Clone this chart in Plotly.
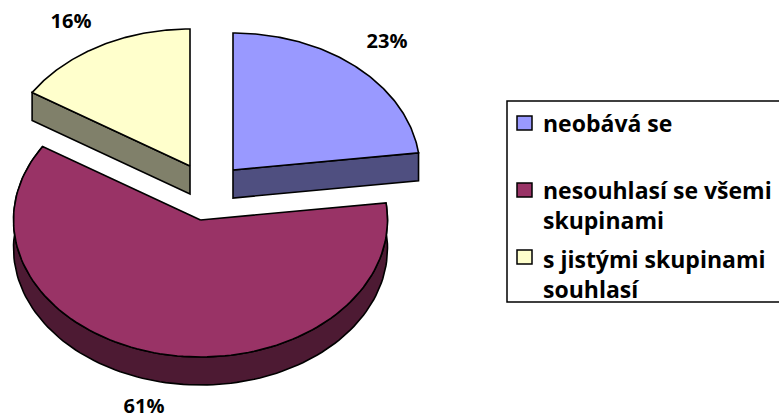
import math
import plotly.graph_objects as go

categories = ["neobává se", "nesouhlasí se všemi", "s jistými skupinami"]
legend_labels = ["neobává se", "nesouhlasí se všemi<br>skupinami", "s jistými skupinami<br>souhlasí"]
values = [23, 61, 16]
top_colors = ["#9999FF", "#993366", "#FFFFCC"]
side_colors = ["#4F4F80", "#4D1A33", "#80806A"]

W, H = 779, 418
RX, RY, DEPTH = 187, 137, 28
CENTERS = [(233, 170), (200.5, 220), (190, 166)]
LABELS = [(387, 43), (144, 408), (71, 23)]
KEY_Y = [123, 190, 257]
TEXT_TOP = [105, 172, 241]
FONT = "Open Sans"


def arc(c, a0, a1, dy=0, n=120):
    pts = []
    for i in range(n + 1):
        a = math.radians(a0 + (a1 - a0) * i / n)
        pts.append((c[0] + RX * math.sin(a), c[1] - RY * math.cos(a) + dy))
    return pts


def poly(pts, fill, name=None):
    return go.Scatter(
        x=[p[0] for p in pts], y=[p[1] for p in pts], mode="lines",
        fill="toself", fillcolor=fill, line=dict(color="black", width=1.6),
        hoverinfo="skip", showlegend=False, name=name or "",
    )


angles = []
acc = 0.0
for v in values:
    angles.append((acc, acc + v * 3.6))
    acc += v * 3.6

fig = go.Figure()

# side walls
for i, (c, (a0, a1)) in enumerate(zip(CENTERS, angles)):
    if i == 0:  # wall along the closing radius
        e = arc(c, a1, a1, n=1)[0]
        fig.add_trace(poly([c, e, (e[0], e[1] + DEPTH), (c[0], c[1] + DEPTH), c], side_colors[i]))
    elif i == 2:  # wall along the opening radius
        e = arc(c, a0, a0, n=1)[0]
        fig.add_trace(poly([c, e, (e[0], e[1] + DEPTH), (c[0], c[1] + DEPTH), c], side_colors[i]))
    else:  # curved rim
        top = arc(c, a0, a1)
        bot = arc(c, a1, a0, dy=DEPTH)
        fig.add_trace(poly(top + bot + [top[0]], side_colors[i]))

# top faces
for i, (c, (a0, a1)) in enumerate(zip(CENTERS, angles)):
    fig.add_trace(poly([c] + arc(c, a0, a1) + [c], top_colors[i], categories[i]))

fig.add_trace(go.Scatter(
    x=[p[0] for p in LABELS], y=[p[1] for p in LABELS], mode="text",
    text=[f"{v}%" for v in values], textposition="middle center", cliponaxis=False,
    textfont=dict(family=FONT, size=20, color="black", weight="bold"),
    hoverinfo="skip", showlegend=False,
))

# legend box, running off the right edge as in the reference
fig.add_shape(type="rect", x0=507, x1=800, y0=101, y1=302,
              line=dict(color="black", width=1.5), fillcolor="white")
for lab, col, ky, ty in zip(legend_labels, top_colors, KEY_Y, TEXT_TOP):
    fig.add_shape(type="rect", x0=517, x1=532, y0=ky - 7, y1=ky + 7,
                  line=dict(color="black", width=1.5), fillcolor=col)
    fig.add_annotation(x=541, y=ty, xanchor="left", yanchor="top", align="left",
                       text=lab, showarrow=False,
                       font=dict(family=FONT, size=23, color="black", weight="bold"))

fig.update_layout(
    width=W, height=H, margin=dict(l=0, r=0, t=0, b=0),
    autosize=False, plot_bgcolor="white", paper_bgcolor="white", showlegend=False,
    xaxis=dict(range=[0, W], visible=False, fixedrange=True),
    yaxis=dict(range=[H, 0], visible=False, fixedrange=True),
)
fig.write_html("out.html", config={"displayModeBar": False},
               post_script="document.body.style.margin='0';document.body.style.overflow='hidden';")
